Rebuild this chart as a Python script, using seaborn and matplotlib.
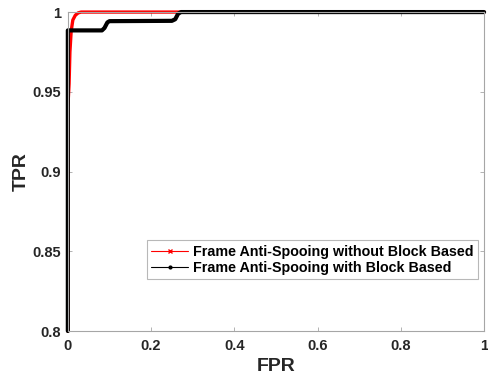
import numpy as np
import pandas as pd
import matplotlib
matplotlib.use("Agg")
import matplotlib.pyplot as plt
import seaborn as sns
from matplotlib.lines import Line2D

# Data
fpr_without = [0.0, 0.0, 0.003, 0.005, 0.008, 0.012, 0.018, 0.025, 0.032, 1.0]
tpr_without = [0.80, 0.94, 0.955, 0.975, 0.988, 0.995, 0.998, 0.9995, 1.0, 1.0]
fpr_with = [0.0, 0.0, 0.082, 0.088, 0.095, 0.100, 0.250, 0.258, 0.265, 0.272, 1.0]
tpr_with = [0.80, 0.9885, 0.9885, 0.990, 0.9935, 0.9943, 0.9945, 0.9955, 0.999, 1.0, 1.0]
labels = ["Frame Anti-Spooing without Block Based", "Frame Anti-Spooing with Block Based"]
x_ticks = [0, 0.2, 0.4, 0.6, 0.8, 1]
x_tick_labels = ["0", "0.2", "0.4", "0.6", "0.8", "1"]
y_ticks = [0.8, 0.85, 0.9, 0.95, 1]
y_tick_labels = ["0.8", "0.85", "0.9", "0.95", "1"]

sns.set_theme(style="white")
plt.rcParams['font.family'] = ['Liberation Sans', 'DejaVu Sans']

df1 = pd.DataFrame({"FPR": fpr_without, "TPR": tpr_without})
df2 = pd.DataFrame({"FPR": fpr_with, "TPR": tpr_with})

fig = plt.figure(figsize=(4.88, 3.77), dpi=100)
ax = fig.add_axes([0.139, 0.122, 0.853, 0.846])

sns.lineplot(data=df1, x="FPR", y="TPR", sort=False, estimator=None,
             color="#ff0000", linewidth=2.4, ax=ax)
sns.lineplot(data=df2, x="FPR", y="TPR", sort=False, estimator=None,
             color="#000000", linewidth=3.0, ax=ax)
for ln in ax.get_lines():
    ln.set_clip_on(False)

ax.set_xlim(0, 1)
ax.set_ylim(0.8, 1)
ax.set_xticks(x_ticks)
ax.set_xticklabels(x_tick_labels)
ax.set_yticks(y_ticks)
ax.set_yticklabels(y_tick_labels)

tc = "#262626"
for lab in ax.get_xticklabels() + ax.get_yticklabels():
    lab.set_fontweight("bold")
    lab.set_fontsize(10.5)
    lab.set_color(tc)
ax.set_xlabel("FPR", fontsize=14, fontweight="bold", color=tc, labelpad=3)
ax.set_ylabel("TPR", fontsize=14, fontweight="bold", color=tc, labelpad=2)

for s in ax.spines.values():
    s.set_color("#a6a6a6")
    s.set_linewidth(0.8)
ax.tick_params(direction="in", length=3, width=0.6, color="#a6a6a6",
               top=True, right=True, bottom=True, left=True, pad=6)
ax.tick_params(axis="y", pad=5)

handles = [Line2D([0], [0], color="#ff0000", lw=0.8, marker="x", markersize=3),
           Line2D([0], [0], color="#000000", lw=0.8, marker=".", markersize=4)]
leg = ax.legend(handles, labels, loc="lower right", bbox_to_anchor=(0.986, 0.163),
                frameon=True, fancybox=False, fontsize=10.3, handlelength=2.6,
                handletextpad=0.35, borderpad=0.3, labelspacing=0.15, borderaxespad=0)
leg.get_frame().set_edgecolor("#a6a6a6")
leg.get_frame().set_linewidth(0.8)
for t in leg.get_texts():
    t.set_fontweight("bold")
    t.set_color("#000000")

fig.savefig("out.png", dpi=100)
